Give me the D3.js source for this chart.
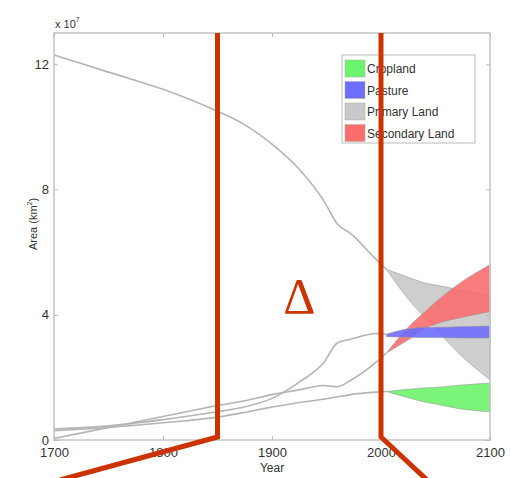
<!DOCTYPE html>
<html>
<head>
<meta charset="utf-8">
<script src="https://cdn.jsdelivr.net/npm/d3@7"></script>
<style>
  body { margin: 0; background: #fff; }
  text { font-family: "Liberation Sans", Arial, sans-serif; fill: #333; }
</style>
</head>
<body>
<div id="chart"></div>
<script>
// historical curves (units of 1e7 km2)
var histYears = [1700, 1750, 1800, 1850, 1870, 1900, 1925, 1947, 1960, 1972, 1996, 2005];
var primaryHist   = [12.3, 11.75, 11.2, 10.5, 10.17, 9.45, 8.65, 7.67, 6.9, 6.6, 5.75, 5.45];
var pastureHist   = [0.35, 0.45, 0.65, 0.9, 1.02, 1.33, 1.85, 2.45, 3.1, 3.22, 3.4, 3.38];
var secondaryHist = [0.05, 0.4, 0.75, 1.1, 1.22, 1.45, 1.6, 1.74, 1.7, 1.9, 2.5, 2.78];
var croplandHist  = [0.3, 0.4, 0.55, 0.73, 0.85, 1.05, 1.2, 1.3, 1.38, 1.45, 1.53, 1.55];

// future ranges
var futYears = [2005, 2025, 2042, 2050, 2072, 2100];
var primaryHi   = [5.45, 5.2, 5.0, 4.95, 4.8, 4.63];
var primaryLo   = [5.45, 4.5, 3.85, 3.55, 2.75, 1.92];
var secondaryHi = [2.78, 3.6, 4.15, 4.4, 5.0, 5.6];
var secondaryLo = [2.78, 3.2, 3.58, 3.7, 3.9, 4.1];
var pastureHi   = [3.38, 3.55, 3.6, 3.6, 3.62, 3.64];
var pastureLo   = [3.3, 3.28, 3.27, 3.27, 3.26, 3.26];
var croplandHi  = [1.55, 1.62, 1.67, 1.68, 1.75, 1.82];
var croplandLo  = [1.55, 1.35, 1.2, 1.15, 1.0, 0.9];

var legendNames  = ["Cropland", "Pasture", "Primary Land", "Secondary Land"];
var legendColors = ["#6cf46c", "#6e6efc", "#c9c9c9", "#fb6e6e"];

var xTicks = [1700, 1800, 1900, 2000, 2100];
var yTicks = [0, 4, 8, 12];

var W = 511, H = 478;
var margin = {top: 33, right: 21, bottom: 38, left: 54};
var innerW = W - margin.left - margin.right,
    innerH = H - margin.top - margin.bottom;

var svg = d3.select("#chart").append("svg")
    .attr("width", W)
    .attr("height", H);

var x = d3.scaleLinear().domain([1700, 2100]).range([0, innerW]);
var y = d3.scaleLinear().domain([0, 13]).range([innerH, 0]);

var g = svg.append("g")
    .attr("transform", "translate(" + margin.left + "," + margin.top + ")");

// bands
function band(hi, lo, color) {
  var area = d3.area()
      .x(function(d, i) { return x(futYears[i]); })
      .y0(function(d, i) { return y(lo[i]); })
      .y1(function(d) { return y(d); })
      .curve(d3.curveMonotoneX);
  g.append("path")
      .attr("d", area(hi))
      .attr("fill", color)
      .attr("fill-opacity", 0.9)
      .attr("stroke", "#999")
      .attr("stroke-width", 0.6);
}
band(primaryHi, primaryLo, legendColors[2]);
band(secondaryHi, secondaryLo, legendColors[3]);
band(pastureHi, pastureLo, legendColors[1]);
band(croplandHi, croplandLo, legendColors[0]);

// historical lines
var line = d3.line()
    .x(function(d, i) { return x(histYears[i]); })
    .y(function(d) { return y(d); })
    .curve(d3.curveMonotoneX);

[primaryHist, pastureHist, secondaryHist, croplandHist].forEach(function(s) {
  g.append("path")
      .attr("d", line(s))
      .attr("fill", "none")
      .attr("stroke", "#b4b4b4")
      .attr("stroke-width", 1.6);
});

// axes box
g.append("rect")
    .attr("width", innerW)
    .attr("height", innerH)
    .attr("fill", "none")
    .attr("stroke", "#c4c4c4")
    .attr("stroke-width", 1.5);

var xAxis = g.append("g")
    .attr("transform", "translate(0," + innerH + ")")
    .call(d3.axisBottom(x).tickValues(xTicks).tickSize(-4).tickPadding(8).tickFormat(d3.format("d")));
var xTop = g.append("g")
    .call(d3.axisTop(x).tickValues(xTicks).tickSize(-4).tickFormat(""));
var yAxis = g.append("g")
    .call(d3.axisLeft(y).tickValues(yTicks).tickSize(-4).tickPadding(5));
var yRight = g.append("g")
    .attr("transform", "translate(" + innerW + ",0)")
    .call(d3.axisRight(y).tickValues(yTicks).tickSize(-4).tickFormat(""));

[xAxis, xTop, yAxis, yRight].forEach(function(a) {
  a.select(".domain").remove();
  a.selectAll("line").attr("stroke", "#bbb");
  a.selectAll("text").attr("font-size", 13).attr("fill", "#333")
      .style("font-family", "Liberation Sans, Arial, sans-serif");
});

// labels
svg.append("text")
    .attr("x", margin.left + x(1900))
    .attr("y", 472)
    .attr("text-anchor", "middle")
    .attr("font-size", 12)
    .text("Year");

var yl = svg.append("text")
    .attr("transform", "translate(37," + (margin.top + y(6.9)) + ") rotate(-90)")
    .attr("text-anchor", "middle")
    .attr("font-size", 11);
yl.append("tspan").text("Area (km");
yl.append("tspan").attr("font-size", 7).attr("dy", -5).text("2");
yl.append("tspan").attr("dy", 5).text(")");

var ex = svg.append("text")
    .attr("x", margin.left + 1)
    .attr("y", 28)
    .attr("font-size", 11);
ex.append("tspan").text("x 10");
ex.append("tspan").attr("font-size", 7).attr("dy", -6).text("7");

// legend
var leg = svg.append("g").attr("transform", "translate(342,55)");
leg.append("rect")
    .attr("width", 133).attr("height", 88)
    .attr("fill", "#fff").attr("stroke", "#bbb");
legendNames.forEach(function(n, i) {
  var row = leg.append("g").attr("transform", "translate(0," + (5 + i * 21.5) + ")");
  row.append("rect")
      .attr("x", 3).attr("width", 20).attr("height", 17)
      .attr("fill", legendColors[i]).attr("stroke", "#aaa").attr("stroke-width", 0.5);
  row.append("text")
      .attr("x", 25).attr("y", 13)
      .attr("font-size", 12)
      .text(n);
});

// red annotation overlay
var red = "#cc3300";
var xl = margin.left + x(1850), xr = margin.left + x(2000);
var yb = margin.top + innerH - 3;
var ov = svg.append("g").attr("fill", "none").attr("stroke", red).attr("stroke-width", 5);
ov.append("path").attr("d", "M" + xl + "," + margin.top + "V" + yb + "L60," + (H + 2));
ov.append("path").attr("d", "M" + xr + "," + margin.top + "V" + yb + "L427," + (H + 2));

svg.append("text")
    .attr("x", (xl + xr) / 2 + 0)
    .attr("y", 313)
    .attr("text-anchor", "middle")
    .attr("font-size", 50)
    .style("font-family", "Liberation Serif, serif")
    .style("fill", red)
    .text("\u0394");
</script>
</body>
</html>
